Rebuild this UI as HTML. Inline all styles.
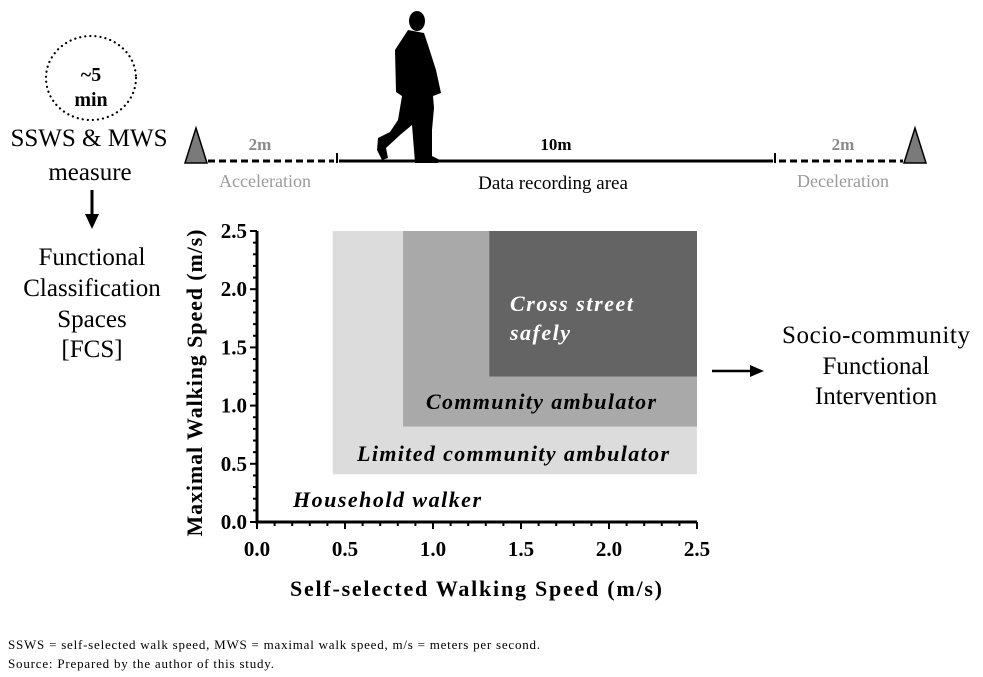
<!DOCTYPE html>
<html><head><meta charset="utf-8"><style>
html,body{margin:0;padding:0;background:#fff}
svg{display:block}
text{font-family:"Liberation Serif",serif}
</style></head><body>
<svg width="983" height="677" viewBox="0 0 983 677">
<g>
<ellipse cx="91" cy="78" rx="45" ry="42" fill="none" stroke="#000" stroke-width="2.2" stroke-dasharray="0.1 5" stroke-linecap="round"/>
<text x="91" y="81" text-anchor="middle" font-size="20" font-weight="bold">~5</text>
<text x="91" y="106" text-anchor="middle" font-size="20" font-weight="bold">min</text>
<text x="89" y="146" text-anchor="middle" font-size="25">SSWS &amp; MWS</text>
<text x="90" y="180" text-anchor="middle" font-size="25">measure</text>
<line x1="92" y1="190" x2="92" y2="216" stroke="#000" stroke-width="3"/>
<polygon points="85,214 99,214 92,229" fill="#000"/>
<text x="92" y="265" text-anchor="middle" font-size="25">Functional</text>
<text x="92" y="296" text-anchor="middle" font-size="25">Classification</text>
<text x="92" y="327" text-anchor="middle" font-size="25">Spaces</text>
<text x="92" y="357" text-anchor="middle" font-size="25">[FCS]</text>
</g>
<g>
<polygon points="185,163 196,128 207,163" fill="#7a7a7a" stroke="#000" stroke-width="1.5"/>
<polygon points="904,163 915,128 926,163" fill="#7a7a7a" stroke="#000" stroke-width="1.5"/>
<line x1="208" y1="161" x2="334" y2="161" stroke="#000" stroke-width="3" stroke-dasharray="7 4"/>
<line x1="339" y1="161" x2="773" y2="161" stroke="#000" stroke-width="3"/>
<line x1="337" y1="153" x2="337" y2="163" stroke="#000" stroke-width="2"/>
<line x1="775" y1="153" x2="775" y2="163" stroke="#000" stroke-width="2"/>
<line x1="779" y1="161" x2="903" y2="161" stroke="#000" stroke-width="3" stroke-dasharray="7 4"/>
<text x="260" y="150" text-anchor="middle" font-size="17" font-weight="bold" fill="#8a8a8a">2m</text>
<text x="556" y="150" text-anchor="middle" font-size="17" font-weight="bold">10m</text>
<text x="843" y="150" text-anchor="middle" font-size="17" font-weight="bold" fill="#8a8a8a">2m</text>
<text x="265" y="187" text-anchor="middle" font-size="18" fill="#9a9a9a">Acceleration</text>
<text x="553" y="189" text-anchor="middle" font-size="19">Data recording area</text>
<text x="843" y="187" text-anchor="middle" font-size="18" fill="#9a9a9a">Deceleration</text>
<g fill="#000">
<ellipse cx="417" cy="21" rx="8" ry="10"/>
<path d="M408,30 L424,33 L428,45 L436,70 L441,93 L433,96 L434,108 L432,130 L432,156 L440,160 L438,163 L415,163 L414,150 L412,125 L400,135 L386,148 L388,158 L382,160 L377,150 L378,138 L390,132 L398,120 L402,96 L396,92 L395,50 Z"/>
</g>
</g>
<g id="chart"></g>
<g>
<line x1="712" y1="371" x2="752" y2="371" stroke="#000" stroke-width="2.5"/>
<polygon points="750,365 764,371 750,377" fill="#000"/>
<text x="876" y="343" text-anchor="middle" font-size="25" textLength="188">Socio-community</text>
<text x="876" y="374" text-anchor="middle" font-size="25">Functional</text>
<text x="876" y="404" text-anchor="middle" font-size="25">Intervention</text>
</g>
<text x="8" y="649" font-size="13" textLength="532">SSWS = self-selected walk speed, MWS = maximal walk speed, m/s = meters per second.</text>
<text x="8" y="668" font-size="13" textLength="266">Source: Prepared by the author of this study.</text>
</svg>
<script>
const regionNames = ["limited", "community", "cross-street"];
const regionX0 = [0.43, 0.83, 1.32];
const regionY0 = [0.41, 0.82, 1.25];
const regionColors = ["#dcdcdc", "#a9a9a9", "#646464"];
const xTicks = [0, 0.5, 1.0, 1.5, 2.0, 2.5];
const yTicks = [0, 0.5, 1.0, 1.5, 2.0, 2.5];
const tickLabels = ["0.0", "0.5", "1.0", "1.5", "2.0", "2.5"];
const axisMax = 2.5;

const NS = "http://www.w3.org/2000/svg";
const g = document.getElementById("chart");
const X0 = 257, X1 = 697, Y0 = 522, Y1 = 231;
const sx = v => X0 + v / axisMax * (X1 - X0);
const sy = v => Y0 - v / axisMax * (Y0 - Y1);
function mk(tag, attrs) { const e = document.createElementNS(NS, tag); for (const k in attrs) e.setAttribute(k, attrs[k]); g.appendChild(e); return e; }

regionNames.forEach((n, i) => {
  const r = mk("rect", {x: sx(regionX0[i]), y: sy(axisMax), width: sx(axisMax) - sx(regionX0[i]), height: sy(regionY0[i]) - sy(axisMax), fill: regionColors[i]});
  
  
});

const ax = mk("path", {d: `M${X0},${sy(axisMax)} L${X0},${Y0} L${sx(axisMax)},${Y0}`, fill: "none", stroke: "#000", "stroke-width": 3});



for (let v = 0; v <= axisMax + 1e-9; v += 0.1) {
  const major = Math.abs(v * 2 - Math.round(v * 2)) < 1e-6;
  const len = major ? 7 : 4;
  const tx = mk("line", {x1: sx(v), x2: sx(v), y1: Y0, y2: Y0 + len, stroke: "#000", "stroke-width": 2});
  
  
  const ty = mk("line", {x1: X0 - len, x2: X0, y1: sy(v), y2: sy(v), stroke: "#000", "stroke-width": 2});
  
  
}
xTicks.forEach((v, i) => {
  const t = mk("text", {x: sx(v), y: Y0 + 34, "text-anchor": "middle", "font-size": 21, "font-weight": "bold"});
  t.textContent = tickLabels[i];
  
  
});
yTicks.forEach((v, i) => {
  const t = mk("text", {x: X0 - 10, y: sy(v) + 7, "text-anchor": "end", "font-size": 21, "font-weight": "bold"});
  t.textContent = tickLabels[i];
  
  
});
const lbl = (txt, x, y, w, fill, name) => {
  const t = mk("text", {x: x, y: y, "font-size": 22, "font-weight": "bold", "font-style": "italic", fill: fill, textLength: w, lengthAdjust: "spacing"});
  t.textContent = txt;
  
  
};
lbl("Cross street", 510, 311, 123, "#fff", "label-cross-street");
lbl("safely", 510, 340, 60, "#fff", "label-safely");
lbl("Community ambulator", 426, 409, 230, "#000", "label-community");
lbl("Limited community ambulator", 357, 461, 312, "#000", "label-limited");
lbl("Household walker", 293, 507, 188, "#000", "label-household");
const xt = mk("text", {x: 476, y: 596, "text-anchor": "middle", "font-size": 22, "font-weight": "bold", textLength: 372, lengthAdjust: "spacing"});
xt.textContent = "Self-selected Walking Speed  (m/s)";


const yt = mk("text", {x: 0, y: 0, "text-anchor": "middle", "font-size": 22, "font-weight": "bold", textLength: 307, lengthAdjust: "spacing", transform: "translate(202,383) rotate(-90)"});
yt.textContent = "Maximal Walking Speed (m/s)";


</script>
</body></html>
